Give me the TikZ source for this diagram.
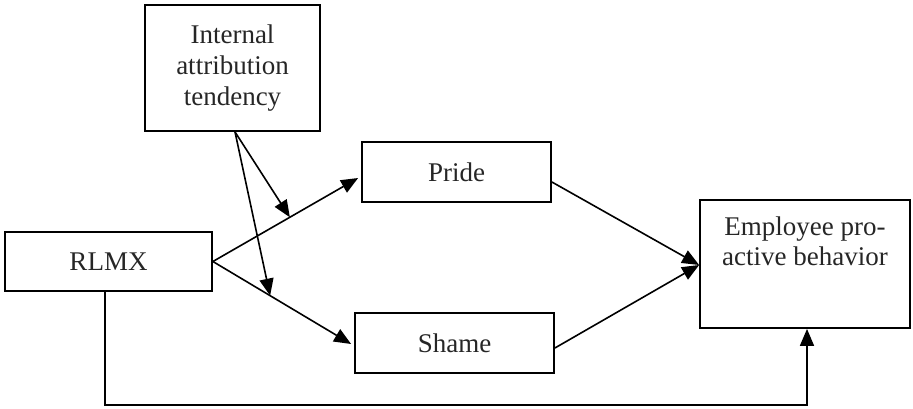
\documentclass[tikz,border=0pt]{standalone}
\usepackage{fontspec}
\setmainfont{Liberation Serif}
\usetikzlibrary{arrows.meta,calc}
\begin{document}
\begin{tikzpicture}[x=1pt,y=-1pt,
  box/.style={draw,line width=1.8pt,rectangle,inner sep=0pt,align=center,
    font=\fontsize{27}{31}\selectfont,text=black!85},
  conn/.style={line width=1.6pt,-{Triangle[length=17pt,width=14pt]}},
  plain/.style={line width=1.6pt}]
\useasboundingbox (0,0) rectangle (913,408);
\node[box,minimum width=175pt,minimum height=126pt] (iat) at (232.5,68) {Internal\\attribution\\tendency};
\node[box,minimum width=207pt,minimum height=59pt] (rlmx) at (108.5,261.5) {RLMX};
\node[box,minimum width=189pt,minimum height=60pt] (pride) at (456.5,172) {Pride};
\node[box,minimum width=199pt,minimum height=60pt] (shame) at (454.5,343) {Shame};
\node[box,minimum width=210pt,minimum height=128pt] (emp) at (805,264) {};
\node[anchor=north,align=center,font=\fontsize{27}{30}\selectfont,text=black!85,inner sep=0pt] (emptext) at ($(emp.north)+(0,17)$) {Employee pro-\\active behavior};
% main paths
\coordinate (pin) at ($(pride.west)+(-3,6)$);
\coordinate (sin) at ($(shame.west)+(-3,1)$);
\coordinate (einp) at ($(emp.west)+(0,1)$);
\draw[conn] (rlmx.east) -- coordinate[pos=0.53] (m1) (pin);
\draw[conn] (rlmx.east) -- coordinate[pos=0.414] (m2) (sin);
\draw[conn] ($(pride.east)+(0,10)$) -- (einp);
\draw[conn] ($(shame.east)+(0,5)$) -- (einp);
\coordinate (iatout) at ($(iat.south)+(2.5,0)$);
\draw[conn] (iatout) -- (m1);
\draw[conn] (iatout) -- (m2);
\coordinate (rb) at ($(rlmx.south)+(-3.5,0)$);
\coordinate (eb) at ($(emp.south)+(2,0)$);
\draw[plain] (rb) -- (rb |- 0,405) -- (eb |- 0,405);
\draw[conn] ($(eb |- 0,405)+(0,0.8)$) -- (eb);
\end{tikzpicture}
\end{document}
